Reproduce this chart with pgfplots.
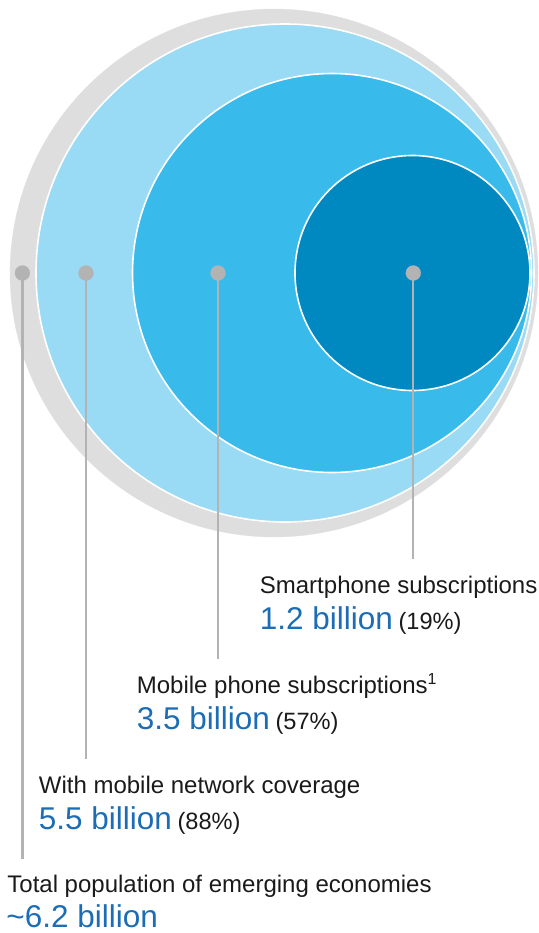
\documentclass[border=0pt]{standalone}
\usepackage{pgfplots}
\pgfplotsset{compat=1.18}
\usepackage{pgfplotstable}
\usepackage{fontspec}
\setmainfont{Liberation Sans}

\definecolor{cgray}{HTML}{DEDEDE}
\definecolor{clight}{HTML}{99DAF5}
\definecolor{cmid}{HTML}{38BBEB}
\definecolor{cdark}{HTML}{0089C0}
\definecolor{cdot}{HTML}{B3B3B3}
\definecolor{tblue}{HTML}{1C6DB4}
\definecolor{tdark}{HTML}{1A1A1A}

% circles in picture pixels: centre x, centre y, radius
\pgfplotstableread{
x     y   r     cls
274   273 264   a
285   273 249   b
332   273 199.5 c
412.5 273 117.5 d
}\circles

\pgfplotstableread{
x    y
22.4 273
86   273
218  273
413.3 273
}\dots

\newcommand{\lbl}[1]{{\fontsize{12}{14}\selectfont\color{tdark}#1}}
\newcommand{\val}[2]{{\fontsize{15.75}{18}\selectfont\color{tblue}#1}\ {\fontsize{11.8}{14}\selectfont\color{tdark}#2}}

\begin{document}
\begin{tikzpicture}
\begin{axis}[
  name=ax,
  x=0.5pt, y=0.5pt, y dir=reverse,
  xmin=0, xmax=539, ymin=0, ymax=933,
  enlargelimits=false,
  hide axis, clip=false, clip mode=individual,
]
% nested circles
\addplot[scatter, only marks, mark=*,
  point meta=explicit symbolic,
  scatter/classes={
    a={fill=cgray, draw=cgray, line width=0.1pt},
    b={fill=clight, draw=white, line width=0.8pt},
    c={fill=cmid, draw=white, line width=0.8pt},
    d={fill=cdark, draw=white, line width=0.8pt}},
  visualization depends on={\thisrow{r} \as \rr},
  scatter/@pre marker code/.append style={/tikz/mark size=0.5pt*\rr},
] table[meta=cls] {\circles};

% leader lines
\addplot[cdot, line width=1.1pt, no marks] coordinates {(22.4,273) (22.4,859)};
\addplot[cdot, line width=1.1pt, no marks] coordinates {(86,273) (86,759)};
\addplot[cdot, line width=1.1pt, no marks] coordinates {(218,273) (218,659)};
\addplot[cdot, line width=1.1pt, no marks] coordinates {(413.3,273) (413.3,559)};

% dots
\addplot[only marks, mark=*, mark size=3.75pt, mark options={fill=cdot, draw=cdot, line width=0.1pt}] table {\dots};

% labels
\node[anchor=base west, inner sep=0] at (axis cs:259.5,593.3) {\lbl{Smartphone subscriptions}};
\node[anchor=base west, inner sep=0] at (axis cs:259.5,629.3) {\val{1.2 billion}{(19\%)}};
\node[anchor=base west, inner sep=0] at (axis cs:136.5,693.3) {\lbl{Mobile phone subscriptions\textsuperscript{1}}};
\node[anchor=base west, inner sep=0] at (axis cs:136.5,729) {\val{3.5 billion}{(57\%)}};
\node[anchor=base west, inner sep=0] at (axis cs:38.5,793.3) {\lbl{With mobile network coverage}};
\node[anchor=base west, inner sep=0] at (axis cs:38.5,829.5) {\val{5.5 billion}{(88\%)}};
\node[anchor=base west, inner sep=0] at (axis cs:7,892.3) {\lbl{Total population of emerging economies}};
\node[anchor=base west, inner sep=0] at (axis cs:6,927) {{\fontsize{15.75}{18}\selectfont\color{tblue}\textasciitilde 6.2 billion}};
\end{axis}
\pgfresetboundingbox
\path[use as bounding box] (ax.south west) rectangle (ax.north east);
\end{tikzpicture}
\end{document}
